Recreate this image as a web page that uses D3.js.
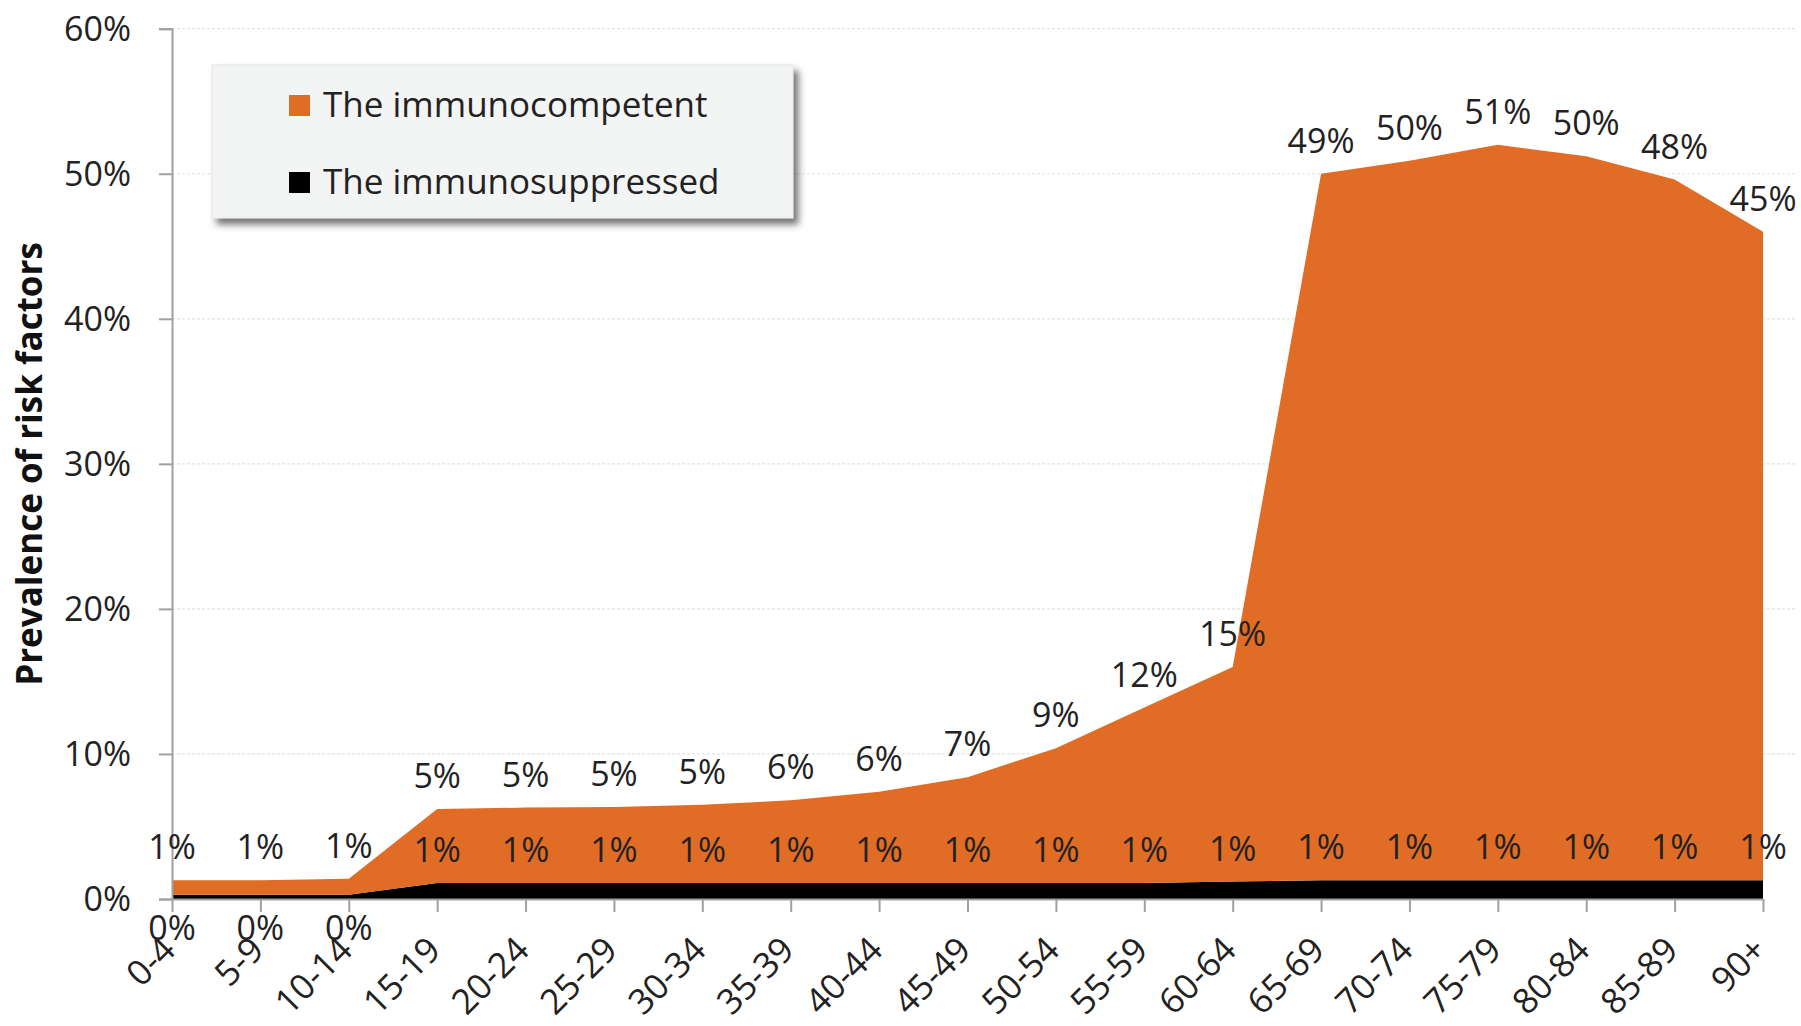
<!DOCTYPE html>
<html>
<head>
<meta charset="utf-8">
<script src="https://cdn.jsdelivr.net/npm/d3@7"></script>
<style>
  html, body { margin: 0; padding: 0; background: #fff; }
  svg { display: block; font-family: "Open Sans", "Noto Sans", sans-serif; }
</style>
</head>
<body>
<svg id="chart" width="1801" height="1026"></svg>
<script>
// ---- data ----
const ageGroups = ["0-4","5-9","10-14","15-19","20-24","25-29","30-34","35-39","40-44","45-49","50-54","55-59","60-64","65-69","70-74","75-79","80-84","85-89","90+"];
const immunocompetent = [1.0, 1.0, 1.1, 5.1, 5.2, 5.25, 5.4, 5.7, 6.3, 7.3, 9.3, 12.1, 14.8, 48.7, 49.6, 50.7, 49.9, 48.3, 44.7];
const immunosuppressed = [0.3, 0.3, 0.3, 1.1, 1.1, 1.1, 1.1, 1.1, 1.1, 1.1, 1.1, 1.1, 1.2, 1.3, 1.3, 1.3, 1.3, 1.3, 1.3];
const yTicks = [0, 10, 20, 30, 40, 50, 60];
const seriesNames = ["The immunocompetent", "The immunosuppressed"];
const colors = { comp: "#e16c25", supp: "#000000" };

// ---- layout ----
const svg = d3.select("#chart");
const x = d3.scalePoint().domain(ageGroups).range([172, 1763]);
const y = d3.scaleLinear().domain([0, 60]).range([899, 28.7]);
const textColor = "#222";

const rows = ageGroups.map((a, i) => ({ age: a, supp: immunosuppressed[i], comp: immunocompetent[i] }));
const stack = d3.stack().keys(["supp", "comp"]);
const layers = stack(rows);

// gridlines
svg.append("g").selectAll("line").data(yTicks.filter(t => t > 0)).join("line")
  .attr("x1", 172).attr("x2", 1797)
  .attr("y1", d => y(d)).attr("y2", d => y(d))
  .attr("stroke", "#e2e2e2").attr("stroke-width", 1.2).attr("stroke-dasharray", "3,2");

// areas
const area = d3.area()
  .x(d => x(d.data.age))
  .y0(d => y(d[0]))
  .y1(d => y(d[1]));
svg.append("g").selectAll("path").data(layers).join("path")
  .attr("d", area)
  .attr("fill", d => colors[d.key]);

// y axis
const yAxis = d3.axisLeft(y).tickValues(yTicks).tickFormat(d => d + "%").tickSize(13).tickPadding(28);
const gy = svg.append("g").attr("transform", "translate(172,0)").call(yAxis);
gy.select(".domain").attr("stroke", "#a0a0a0").attr("stroke-width", 2);
gy.selectAll(".tick line").attr("stroke", "#a0a0a0").attr("stroke-width", 2);
gy.selectAll(".tick text").attr("font-size", 34).attr("fill", textColor)
  .attr("font-family", "'Open Sans', sans-serif").attr("dy", "0.35em");

// x axis
const xAxis = d3.axisBottom(x).tickSize(13).tickPadding(6);
const gx = svg.append("g").attr("transform", "translate(0,899)").call(xAxis);
gx.select(".domain").attr("stroke", "#a0a0a0").attr("stroke-width", 2)
  .attr("d", `M172,0.5H1763`);
gx.selectAll(".tick line").attr("stroke", "#a0a0a0").attr("stroke-width", 2);
gx.selectAll(".tick text")
  .attr("font-size", 35).attr("fill", textColor)
  .attr("font-family", "'Open Sans', sans-serif")
  .attr("text-anchor", "end")
  .attr("dy", 0)
  .attr("transform", "translate(5,53) rotate(-45)")
  .attr("y", 0).attr("x", 0);

// value labels - immunocompetent (above total)
const lab = svg.append("g").attr("font-size", 34).attr("fill", textColor).attr("text-anchor", "middle");
lab.selectAll("text.comp").data(rows).join("text").attr("class", "comp")
  .attr("x", d => x(d.age))
  .attr("y", d => y(d.supp + d.comp) - 21)
  .text(d => Math.round(d.comp) + "%");
// value labels - immunosuppressed
lab.selectAll("text.supp").data(rows).join("text").attr("class", "supp")
  .attr("x", d => x(d.age))
  .attr("y", d => Math.round(d.supp) === 0 ? y(0) + 41 : y(d.supp) - 21)
  .text(d => Math.round(d.supp) + "%");

// y axis title
svg.append("text")
  .attr("transform", "translate(42,464) rotate(-90)")
  .attr("text-anchor", "middle")
  .attr("font-size", 35).attr("font-weight", "bold").attr("fill", "#111")
  .text("Prevalence of risk factors");

// legend
const defs = svg.append("defs");
const f = defs.append("filter").attr("id", "shadow").attr("x", "-10%").attr("y", "-10%").attr("width", "130%").attr("height", "140%");
f.append("feDropShadow").attr("dx", 5).attr("dy", 6).attr("stdDeviation", 3.5)
  .attr("flood-color", "#444").attr("flood-opacity", 0.75);
const lg = svg.append("g");
lg.append("rect").attr("x", 212).attr("y", 65).attr("width", 581).attr("height", 153)
  .attr("fill", "#f3f4f4").attr("stroke", "#e4e4e4").attr("filter", "url(#shadow)");
const legendItems = [{ name: seriesNames[0], key: "comp" }, { name: seriesNames[1], key: "supp" }];
const li = lg.selectAll("g.item").data(legendItems).join("g").attr("class", "item")
  .attr("transform", (d, i) => `translate(289,${105 + i * 77})`);
li.append("rect").attr("x", 0).attr("y", -10).attr("width", 21).attr("height", 21)
  .attr("fill", d => colors[d.key]);
li.append("text").attr("x", 34).attr("y", 0).attr("dy", "0.35em")
  .attr("font-size", 35).attr("fill", textColor).text(d => d.name);
</script>
</body>
</html>
